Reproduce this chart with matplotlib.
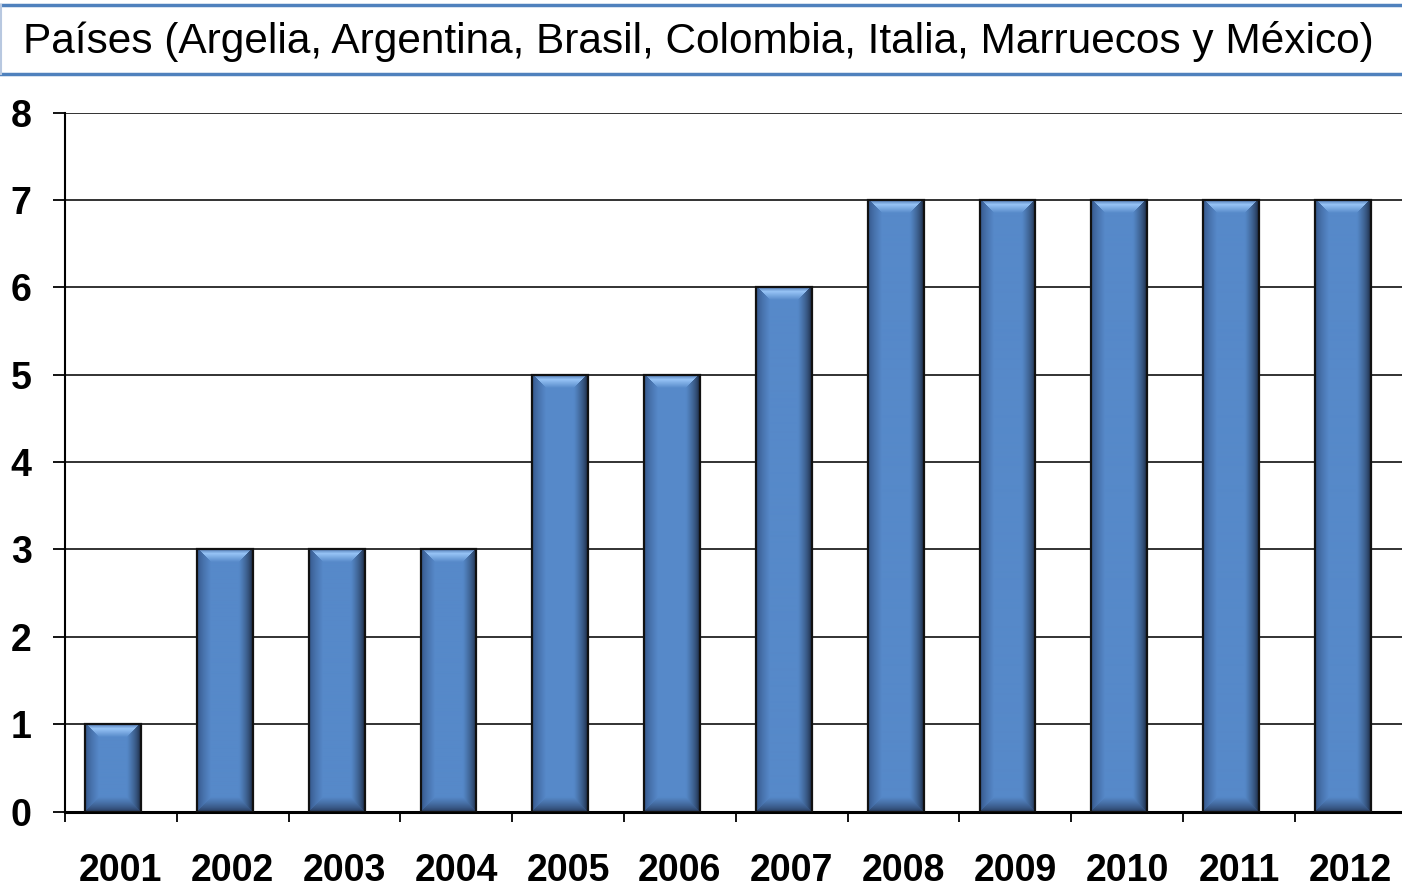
import numpy as np
import matplotlib
matplotlib.use("Agg")
import matplotlib.pyplot as plt
from matplotlib.lines import Line2D

plt.rcParams['font.family'] = ['Liberation Sans', 'DejaVu Sans']

years = ["2001", "2002", "2003", "2004", "2005", "2006",
         "2007", "2008", "2009", "2010", "2011", "2012"]
paises = [1, 3, 3, 3, 5, 5, 6, 7, 7, 7, 7, 7]
titulo = "Países (Argelia, Argentina, Brasil, Colombia, Italia, Marruecos y México)"


def bevel_img(w, h, b=14):
    # sombreado tipo "bisel" de cada barra
    yy, xx = np.mgrid[0:h, 0:w]
    d = np.stack([xx + 0.5, w - xx - 0.5, yy + 0.5, h - yy - 0.5])
    side = np.argmin(d, axis=0)
    t = np.clip(d.min(axis=0) / b, 0, 1)[..., None]
    base = np.array([86, 137, 201]) / 255
    left = np.array([50, 82, 132]) / 255
    right = np.array([15, 22, 38]) / 255
    bottom = np.array([40, 60, 95]) / 255
    top_e = np.array([70, 110, 170]) / 255
    top_l = np.array([150, 195, 245]) / 255
    img = np.empty((h, w, 3))
    for k, e, g in [(0, left, 0.7), (1, right, 0.55), (3, bottom, 0.7)]:
        c = e + (base - e) * t ** g
        img[side == k] = c[side == k]
    # arriba: oscuro -> claro -> base
    tt = t
    up = np.where(tt < 0.4,
                  top_e + (top_l - top_e) * (tt / 0.4),
                  top_l + (base - top_l) * ((tt - 0.4) / 0.6))
    img[side == 2] = up[side == 2]
    return np.clip(img, 0, 1)


fig = plt.figure(figsize=(14.02, 8.89), dpi=100)
ax = fig.add_axes([65 / 1402, 1 - 811.5 / 889, 12 * 111.8 / 1402, 698.8 / 889])

x = np.arange(len(years))
off = -0.07
bw = 0.5
ax.bar(x + off, paises, width=bw, color="#5689C9", zorder=3)
px_x = 111.8
px_y = 87.35
for xi, v in zip(x, paises):
    img = bevel_img(int(round(bw * px_x)), int(round(v * px_y)))
    ax.imshow(img, extent=(xi + off - bw / 2, xi + off + bw / 2, 0, v),
              aspect="auto", interpolation="bilinear", zorder=3.5)
ax.bar(x + off, paises, width=bw, facecolor="none", edgecolor="#111111",
       linewidth=1.6, zorder=4)

ax.set_xlim(-0.5, 11.5)
ax.set_ylim(0, 8)
ax.set_yticks(range(0, 9))
ax.yaxis.grid(True, color="#222222", linewidth=1.3, zorder=0)
ax.set_axisbelow(True)
ax.tick_params(axis="y", direction="out", length=9, width=1.3, pad=15,
               labelsize=27)
for lab in ax.get_yticklabels():
    lab.set_fontweight("bold")

ax.set_xticks(x)
ax.set_xticklabels(years, fontsize=27, fontweight="bold")
ax.set_xticks(np.arange(-0.5, 12, 1), minor=True)
ax.tick_params(axis="x", which="major", length=0, pad=30)
ax.tick_params(axis="x", which="minor", direction="out", length=7, width=1.3)

for s in ["top", "right"]:
    ax.spines[s].set_visible(False)
ax.spines["left"].set_linewidth(1.5)
ax.spines["bottom"].set_linewidth(2.2)

# caja del título
fig.add_artist(Line2D([0, 1], [1 - 5 / 889, 1 - 5 / 889], color="#4F81BD", lw=2.5))
fig.add_artist(Line2D([0, 1], [1 - 74 / 889, 1 - 74 / 889], color="#4F81BD", lw=2.5))
fig.add_artist(Line2D([0.0008, 0.0008], [1 - 74 / 889, 1 - 5 / 889], color="#B8C8E0", lw=1.5))
fig.text(0.498, 1 - 42 / 889, titulo, fontsize=30.5, ha="center", va="center")

fig.savefig("out.png", dpi=100)
